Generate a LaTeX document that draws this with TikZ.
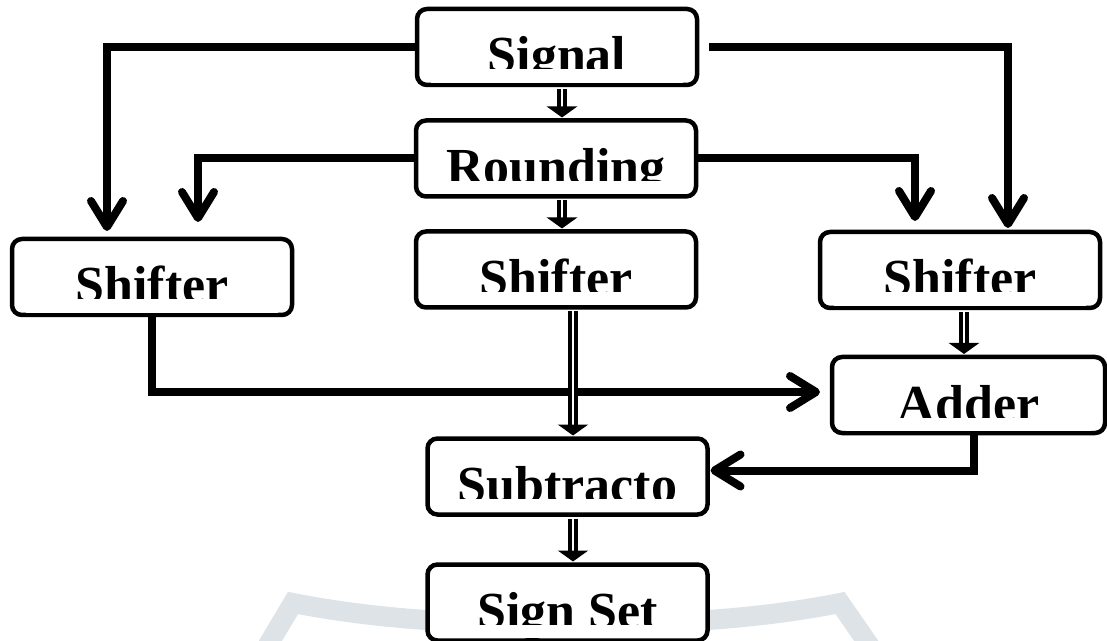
\documentclass[tikz,border=0pt]{standalone}
\usepackage{fontspec}
\setmainfont{Liberation Serif}
\usetikzlibrary{arrows.meta}
\definecolor{wmgrey}{RGB}{221,227,230}
\begin{document}
\begin{tikzpicture}[x=0.5pt,y=-0.5pt,
  box/.style={draw, line width=2.25pt, rounded corners=5pt, fill=white,
    inner sep=0pt, outer sep=0pt, minimum width=140pt, minimum height=38pt,
    text height=32pt, text depth=6pt,
    font=\fontsize{26pt}{30pt}\selectfont\bfseries},
  conn/.style={line width=4pt, -{Straight Barb[length=13pt,width=16pt,round]}},
  dbl/.style={draw, double=white, line width=1.9pt, double distance=1.1pt,
    -{Triangle[length=5.5pt,width=15pt]}},
  textmask/.style={fill=white},
  wmband/.style={draw=wmgrey, line width=10pt, line join=miter}]
\useasboundingbox (0,0) rectangle (1107,641);

% faint background band
\draw[wmband] (262,655) -- (293,603) .. controls (385,621) and (475,624) .. (567,624)
  .. controls (659,624) and (749,621) .. (840,603) -- (876,655);

% blocks
\node[box] (sig) at (557,47)    {Signal};
\node[box] (rnd) at (556,158.5) {Rounding};
\node[box] (ms)  at (556,269.5) {Shifter};
\node[box] (ls)  at (152,277)   {Shifter};
\node[box] (rs)  at (960,270)   {Shifter};
\node[box, minimum width=136.5pt] (add) at (968.5,395) {Adder};
\node[box] (sub) at (567.5,476.5) {Subtracto};
\node[box] (sgn) at (567.5,602.5) {Sign Set};

% the lower part of every label is hidden
\foreach \b in {sig,rnd,ms,ls,rs,add,sub,sgn}
  \fill[textmask] ([shift={(14,-2.3)}]\b.south west) rectangle ([shift={(-14,-15.5)}]\b.south east);

% columns of the vertical runs
\coordinate (h1) at (107,0);
\coordinate (h2) at (198,0);
\coordinate (h3) at (915,0);
\coordinate (h4) at (1008,0);
\coordinate (v1) at (562,0);
\coordinate (v2) at (573,0);
\coordinate (v3) at (964,0);

% single-line connectors
\draw[conn, shorten >=4pt]   (sig.west) -| (ls.north -| h1);
\draw[conn, shorten >=8.5pt] (rnd.west) -| (ls.north -| h2);
\draw[conn, shorten >=2pt]   ([shift={(12,0)}]sig.east) -| (rs.north -| h4);
\draw[conn, shorten >=5.5pt] (rnd.east) -| (rs.north -| h3);
\draw[conn, shorten >=6pt]   (ls.south) |- ([shift={(0,-3)}]add.west);
\draw[conn, shorten >=1.5pt] ([shift={(5,0)}]add.south) |- ([shift={(0,-6)}]sub.east);

% hollow-shaft connectors
\draw[dbl, shorten <=2pt, shorten >=1.5pt] (sig.south -| v1) -- (rnd.north -| v1);
\draw[dbl, shorten <=2pt, shorten >=1.5pt] (rnd.south -| v1) -- (ms.north -| v1);
\draw[dbl, shorten <=2pt, shorten >=1.5pt] (ms.south -| v2) -- (sub.north -| v2);
\draw[dbl, shorten <=2pt, shorten >=1.5pt] (sub.south -| v2) -- (sgn.north -| v2);
\draw[dbl, shorten <=2pt, shorten >=1.5pt] (rs.south -| v3) -- (add.north -| v3);
\end{tikzpicture}
\end{document}
